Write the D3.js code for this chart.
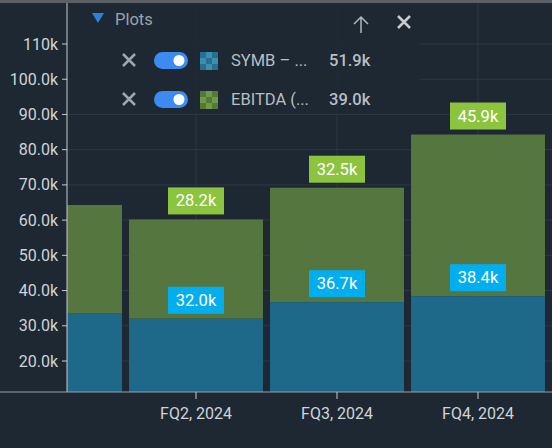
<!DOCTYPE html><html><head><script src="https://cdn.jsdelivr.net/npm/d3@7"></script>
<style>body{margin:0;background:#1d2833;font-family:Roboto,sans-serif}</style></head><body><svg id="c" width="552" height="448"></svg>
<script>
const categories=["FQ1, 2024","FQ2, 2024","FQ3, 2024","FQ4, 2024"];
const symbValues=[33.6,32.0,36.7,38.4];
const ebitdaValues=[30.7,28.2,32.5,45.9];
const showLabels=[false,true,true,true];
const yTicks=[20,30,40,50,60,70,80,90,100,110];
const yTickLabels=["20.0k","30.0k","40.0k","50.0k","60.0k","70.0k","80.0k","90.0k","100.0k","110k"];
const svg=d3.select("#c");
svg.append("rect").attr("width",552).attr("height",448).attr("fill","#1d2833");
const L=67,R=552,B=392;
const y=d3.scaleLinear().domain([11.2,110]).range([B,44]);
const x=d3.scaleBand().domain(categories).range([-15.5,548.5]).paddingInner(0.05).paddingOuter(0.025);
svg.append("defs").append("clipPath").attr("id","cp").append("rect").attr("x",L).attr("y",0).attr("width",R-L).attr("height",B);
const g=svg.append("g").attr("clip-path","url(#cp)");
yTicks.forEach(t=>g.append("line").attr("x1",L).attr("x2",R).attr("y1",y(t)).attr("y2",y(t)).attr("stroke","#2a3947"));
categories.forEach(c=>g.append("line").attr("x1",x(c)+x.bandwidth()/2).attr("x2",x(c)+x.bandwidth()/2).attr("y1",0).attr("y2",B).attr("stroke","#2a3947"));
categories.forEach((c,i)=>{
 g.append("rect").attr("x",x(c)).attr("width",x.bandwidth()).attr("y",y(symbValues[i]+ebitdaValues[i])).attr("height",y(symbValues[i])-y(symbValues[i]+ebitdaValues[i])).attr("fill","#587a3f").attr("opacity",0.95);
 g.append("rect").attr("x",x(c)).attr("width",x.bandwidth()).attr("y",y(symbValues[i])).attr("height",B-y(symbValues[i])).attr("fill","#1f6c8e").attr("opacity",0.95);
});
categories.forEach((c,i)=>{
 if(!showLabels[i])return;
 const cx=x(c)+x.bandwidth()/2;
 [[symbValues[i],symbValues[i],"#03aeef"],[ebitdaValues[i],symbValues[i]+ebitdaValues[i],"#8cc43f"]].forEach(([v,top,col])=>{
  const yb=y(top)-5;
  g.append("rect").attr("x",cx-28).attr("y",yb-27).attr("width",56).attr("height",27).attr("fill",col);
  g.append("text").attr("x",cx).attr("y",yb-8).attr("text-anchor","middle").attr("fill","#fff").attr("font-size",16.5).text(v.toFixed(1)+"k");
 });
});
svg.append("line").attr("x1",L).attr("x2",L).attr("y1",0).attr("y2",B).attr("stroke","#c8ccd0");
svg.append("line").attr("x1",0).attr("x2",552).attr("y1",B).attr("y2",B).attr("stroke","#9aa0a6");
yTicks.forEach((t,i)=>{
 svg.append("line").attr("x1",L-5).attr("x2",L).attr("y1",y(t)).attr("y2",y(t)).attr("stroke","#c8ccd0");
 svg.append("text").attr("x",L-9).attr("y",y(t)+5.5).attr("text-anchor","end").attr("fill","#d0d4d8").attr("font-size",16).text(yTickLabels[i]);
});
categories.forEach(c=>{
 const cx=x(c)+x.bandwidth()/2; if(cx<L)return;
 svg.append("line").attr("x1",cx).attr("x2",cx).attr("y1",B).attr("y2",B+7).attr("stroke","#c8ccd0");
 svg.append("text").attr("x",cx).attr("y",B+27).attr("text-anchor","middle").attr("fill","#d0d4d8").attr("font-size",16).text(c);
});
svg.append("rect").attr("x",0).attr("y",0).attr("width",552).attr("height",3).attr("fill","#5a6066");
const lg=svg.append("g");
lg.append("rect").attr("x",68).attr("y",3).attr("width",352).attr("height",110).attr("fill","#1d2833").attr("opacity",0.85);
lg.append("path").attr("d","M92,13 L104,13 L98,23 Z").attr("fill","#2f7fe0");
lg.append("text").attr("x",115).attr("y",25).attr("fill","#9aa3ab").attr("font-size",16.5).text("Plots");
lg.append("path").attr("d","M361,33 L361,17 M354,24 L361,17 L368,24").attr("stroke","#b0b6bb").attr("stroke-width",1.5).attr("fill","none");
lg.append("path").attr("d","M398,16 L410,28 M410,16 L398,28").attr("stroke","#c8ccd0").attr("stroke-width",2.5);
const leg=[["SYMB – ...","51.9k","#3a8fb5","#2a6f8f"],["EBITDA (...","39.0k","#6f9a4a","#557a38"]];
leg.forEach((d,i)=>{
 const cy=60+i*39;
 lg.append("path").attr("d",`M123,${cy-6} L135,${cy+6} M135,${cy-6} L123,${cy+6}`).attr("stroke","#a0a6ab").attr("stroke-width",2.5);
 lg.append("rect").attr("x",154).attr("y",cy-8).attr("width",34).attr("height",17).attr("rx",8.5).attr("fill","#3b8bf0");
 lg.append("circle").attr("cx",179).attr("cy",cy+0.5).attr("r",5.5).attr("fill","#fff");
 for(let a=0;a<3;a++)for(let b=0;b<3;b++)lg.append("rect").attr("x",200+a*6).attr("y",cy-8+b*6).attr("width",6).attr("height",6).attr("fill",(a+b)%2?d[2]:d[3]);
 lg.append("text").attr("x",231).attr("y",cy+6).attr("fill","#b8bec3").attr("font-size",16.5).text(d[0]);
 lg.append("text").attr("x",329).attr("y",cy+6).attr("fill","#b8bec3").attr("font-size",16.5).attr("font-weight",500).text(d[1]);
});
</script></body></html>
